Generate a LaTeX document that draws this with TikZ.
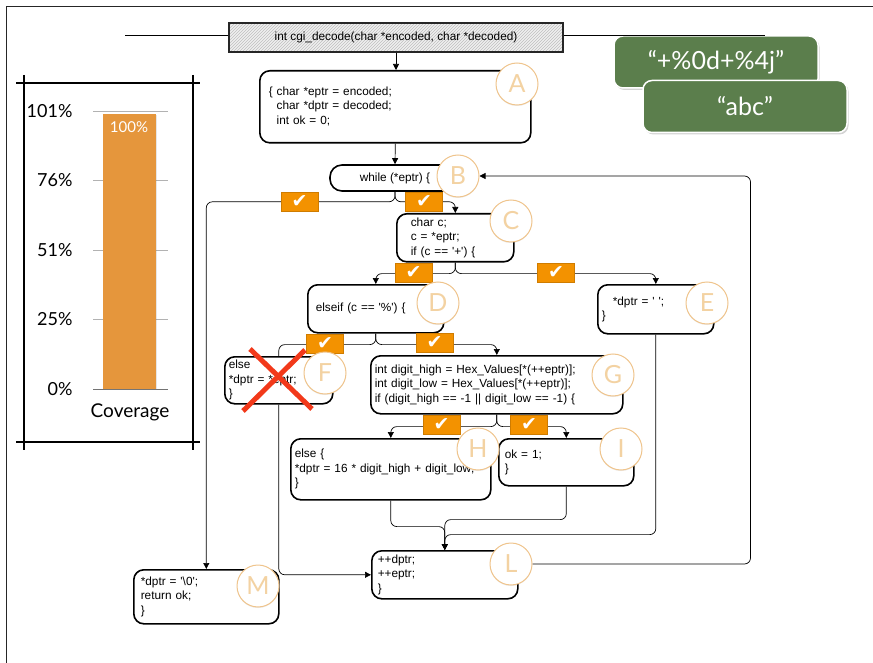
\documentclass[tikz,border=0pt]{standalone}
\usepackage{fontspec}
\setmainfont{Liberation Sans}
\newfontfamily\codefont{Liberation Sans}[Ligatures=TeXOff]
\newfontfamily\gillfont{Lato}
\newfontfamily\symfont{DejaVu Sans}
\usetikzlibrary{arrows.meta,patterns,shadows}

\definecolor{barorange}{HTML}{E5963C}
\definecolor{chkorange}{HTML}{F39200}
\definecolor{tagbg}{HTML}{5B7E4C}
\definecolor{ringedge}{HTML}{EFC48C}
\definecolor{ringtext}{HTML}{F3D2A2}
\definecolor{crossred}{HTML}{F2391A}

\tikzset{
  codebox/.style={rectangle,
    draw = black,
    text = black,
    fill = white,
    line width = 1.6pt,
    rounded corners = 10pt,
    anchor = north west,
    align = left,
    inner ysep = 0pt,
    font = \codefont\fontsize{11.8}{14.6}\selectfont},
  ring/.style={circle,
    draw = ringedge,
    text = ringtext,
    fill = white,
    line width = 1pt,
    minimum size = 42pt,
    inner sep = 0pt,
    font = \gillfont\fontsize{25}{25}\selectfont,
    drop shadow = {opacity=0.15, shadow xshift=0pt, shadow yshift=-1pt}},
  chk/.style={rectangle,
    fill = chkorange,
    draw = chkorange!85!black,
    line width = 0.4pt,
    text = white,
    minimum width = 37pt,
    minimum height = 19pt,
    inner sep = 0pt,
    font = \symfont\fontsize{19}{19}\selectfont},
  tagbox/.style={rectangle,
    fill = tagbg,
    draw = white,
    text = white,
    line width = 1.5pt,
    rounded corners = 9pt,
    minimum width = 204pt,
    minimum height = 52pt,
    font = \gillfont\fontsize{25}{25}\selectfont,
    drop shadow = {opacity=0.35, shadow xshift=1.5pt, shadow yshift=-2pt}},
  conn/.style={draw = black, line width = 0.7pt, rounded corners = 6pt,
    -{Triangle[length=6pt,width=6pt]}},
  link/.style={draw = black, line width = 0.7pt, rounded corners = 6pt},
  pct/.style={anchor = east, font = \gillfont\fontsize{18}{18}\selectfont}
}

\begin{document}
\begin{tikzpicture}[x=1pt, y=-1pt]

	\useasboundingbox (0,0) rectangle (873,663);
	
	% slide frame
	\draw[line width=1pt, black!85] (6,663) -- (6,7) -- (873,7);
	
	% coverage chart
	\draw[line width=1.5pt] (16,83) -- (200,83);
	\draw[line width=1.5pt] (16,442) -- (200,442);
	\draw[line width=1.5pt] (24,75) -- (24,450);
	\draw[line width=1.5pt] (193,75) -- (193,450);
	\foreach \y/\lab in {111/101, 180/76, 250/51, 319/25} {
		\draw[black!30, line width=0.6pt] (93,\y) -- (168,\y);
		\node[pct] at (76,\y) {\lab\%};
	}
	\draw[black!55, line width=0.8pt] (93,389) -- (168,389);
	\node[pct] at (76,389) {0\%};
	\fill[barorange, drop shadow={opacity=0.2, shadow xshift=1pt, shadow yshift=-1pt}]
		(103,114) rectangle (156,389);
	\node[text=white, font=\gillfont\fontsize{15}{15}\selectfont] at (129,127) {100\%};
	\node[font=\gillfont\fontsize{19}{19}\selectfont] at (130,412) {Coverage};
	
	% input strings
	\node[tagbox] (input1) at (716,62) {“+\%0d+\%4j”};
	\node[tagbox] (input2) at (745,106.5) {“abc”};
	
	% function header
	\coordinate (hdrL) at (125,35);
	\coordinate (hdrR) at (765,35);
	\node[rectangle,
	draw = black!85,
	line width = 1.4pt,
	preaction = {fill=black!6},
	pattern = north east lines,
	pattern color = black!25,
	minimum width = 334pt,
	minimum height = 29pt,
	font = \codefont\fontsize{11.8}{14.6}\selectfont] (hdr) at (396,37.5)
	{int cgi\_decode(char *encoded, char *decoded)};
	\draw[line width=0.7pt] (hdrL) -- (hdrL -| hdr.west);
	\draw[line width=0.7pt] (hdrR -| hdr.east) -- (hdrR);
	
	% blocks
	\node[codebox, inner xsep=9pt, text width=253pt, minimum height=72pt] (blkA) at (259,70)
	{\{ char *eptr = encoded;\\
	 \phantom{\{ }char *dptr = decoded;\\
	 \phantom{\{ }int ok = 0;};
	
	\node[codebox, anchor=center, align=center, rounded corners=12pt,
	minimum width=130pt, minimum height=26pt] (blkB) at (395,178) {while (*eptr) \{};
	
	\node[codebox, inner xsep=14pt, text width=89pt, minimum height=48pt] (blkC) at (396,213)
	{char c;\\ c = *eptr;\\ if (c == '+') \{};
	
	\node[codebox, inner xsep=8pt, text width=120pt, minimum height=48pt] (blkD) at (307,284)
	{elseif (c == '\%') \{};
	
	\node[codebox, inner xsep=4pt, text width=108pt, minimum height=49pt] (blkE) at (597,284)
	{\hspace*{11pt}*dptr = ' ';\\ \}};
	
	\node[codebox, inner xsep=4pt, text width=100pt, minimum height=47pt] (blkF) at (224,356)
	{else\\ {}*dptr = *eptr;\\ \}};
	
	\node[codebox, inner xsep=4pt, text width=244pt, minimum height=58pt] (blkG) at (370,355)
	{int digit\_high = Hex\_Values[*(++eptr)];\\
	 int digit\_low = Hex\_Values[*(++eptr)];\\
	 if (digit\_high == -1 || digit\_low == -1) \{};
	
	\node[codebox, inner xsep=4pt, text width=192pt, minimum height=61pt] (blkH) at (290,438)
	{else \{\\ {}*dptr = 16 * digit\_high + digit\_low;\\ \}};
	
	\node[codebox, inner xsep=6pt, text width=123pt, minimum height=47pt] (blkI) at (498,438)
	{ok = 1;\\ \}};
	
	\node[codebox, inner xsep=6pt, text width=134pt, minimum height=48pt] (blkL) at (371,550)
	{++dptr;\\ ++eptr;\\ \}};
	
	\node[codebox, inner xsep=7pt, text width=131pt, minimum height=54pt] (blkM) at (133,569)
	{*dptr = '\textbackslash 0';\\ return ok;\\ \}};
	
	% control flow
	\draw[conn] (hdr.south) -- (hdr.south |- blkA.north);
	\draw[conn] (blkA.south) -- (blkB.north);
	\draw[conn] (blkB.south) -- ++(0,10) -| (blkM.north);
	\draw[conn] (blkB.south) -- ++(0,10) -| (blkC.north);
	\draw[conn] (blkC.south) -- ++(0,11) -| (blkD.north);
	\draw[conn] (blkC.south) -- ++(0,11) -| (blkE.north);
	\draw[link] (blkD.south) -- ++(0,11) -| (blkF.north);
	\draw[conn] (blkD.south) -- ++(0,11) -| (blkG.north);
	\draw[conn] (blkG.south) -- ++(0,12) -| (blkH.north);
	\draw[conn] (blkG.south) -- ++(0,12) -| (blkI.north);
	\draw[conn] (blkH.south) -- ++(0,26) -| (blkL.north);
	\draw[conn] (blkI.south) -- ++(0,33) -| (blkL.north);
	\draw[conn] (blkE.south) -- ++(0,200) -| (blkL.north);
	\draw[conn] (blkF.south) |- (blkL.west);
	
	% covered branches
	\node[chk] (chkBM) at (299.5,202) {✔};
	\node[chk] (chkBC) at (424,202) {✔};
	\node[chk] (chkCD) at (413.5,273) {✔};
	\node[chk] (chkCE) at (556,273) {✔};
	\node[chk] (chkDF) at (325,344) {✔};
	\node[chk] (chkDG) at (434.5,343) {✔};
	\node[chk] (chkGH) at (441.5,425) {✔};
	\node[chk] (chkGI) at (529,425) {✔};
	
	% block labels
	\node[ring] (circA) at (517,84) {A};
	\node[ring] (circB) at (458,176) {B};
	\node[ring] (circC) at (511,221) {C};
	\node[ring] (circD) at (438,303) {D};
	\node[ring] (circE) at (707,303) {E};
	\node[ring] (circF) at (325,373) {F};
	\node[ring] (circG) at (613,375) {G};
	\node[ring] (circH) at (478,449) {H};
	\node[ring] (circI) at (621,449) {I};
	\node[ring] (circL) at (511,564) {L};
	\node[ring] (circM) at (258,586) {M};
	
	% loop back
	\draw[conn] (circL.east) -- ++(218,0) |- (circB.east);
	
	% dead block
	\draw[crossred, line width=5pt] (250,349) -- (312,409);
	\draw[crossred, line width=5pt] (243,411) -- (305,350);
	
\end{tikzpicture}
\end{document}
